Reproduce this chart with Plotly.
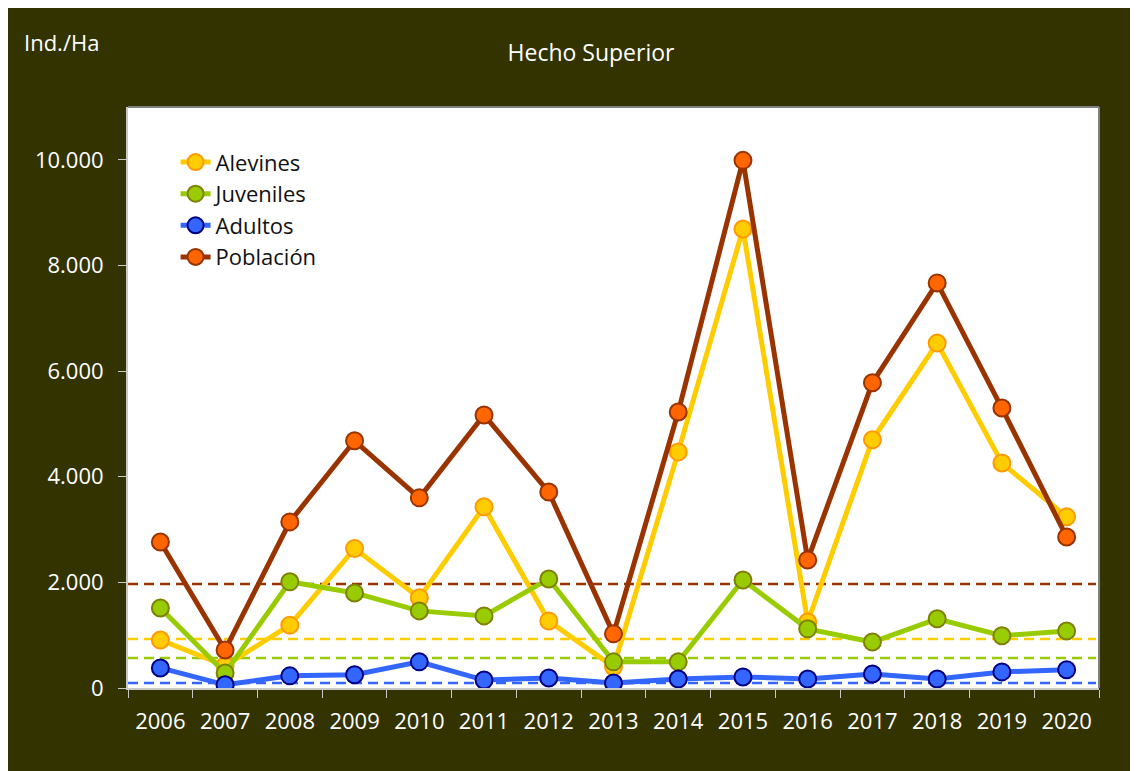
import plotly.graph_objects as go

# datos (Ind./Ha)
years = ['2006', '2007', '2008', '2009', '2010', '2011', '2012', '2013',
         '2014', '2015', '2016', '2017', '2018', '2019', '2020']
alevines = [910, 420, 1190, 2640, 1710, 3430, 1270, 400,
            4470, 8690, 1250, 4700, 6530, 4260, 3240]
juveniles = [1515, 285, 2010, 1800, 1460, 1365, 2065, 495,
             495, 2045, 1120, 870, 1310, 990, 1080]
adultos = [380, 60, 230, 250, 495, 150, 190, 95,
           170, 210, 170, 265, 170, 305, 345]
poblacion = [2765, 720, 3145, 4680, 3600, 5170, 3710, 1025,
             5225, 9990, 2425, 5780, 7670, 5300, 2860]

# medias (lineas discontinuas)
media_alevines = 930
media_juveniles = 570
media_adultos = 95
media_poblacion = 1970

series = [
    ('Alevines', alevines, '#FFCC00', '#FFCC00', '#FF9900'),
    ('Juveniles', juveniles, '#99CC00', '#99CC00', '#808000'),
    ('Adultos', adultos, '#3366FF', '#3366FF', '#000080'),
    ('Población', poblacion, '#993300', '#FF6600', '#993300'),
]
medias = [(media_poblacion, '#993300'), (media_alevines, '#FFCC00'),
          (media_juveniles, '#99CC00'), (media_adultos, '#3366FF')]

font = 'Open Sans'
bg = '#333300'
W, H = 1138, 771          # la pagina deja 8px de margen arriba/izquierda
L, R, T, B = 120, 47, 99, 91
pw, ph = W - L - R, H - T - B

fig = go.Figure()
for name, vals, lc, mc, ml in series:
    fig.add_trace(go.Scatter(x=years, y=vals, name=name, mode='lines+markers',
                             line=dict(color=lc, width=5),
                             marker=dict(size=17, color=mc, line=dict(color=ml, width=2))))

shapes = [
    # borde superior y derecho
    dict(type='line', xref='paper', yref='paper', x0=0, x1=1, y0=1, y1=1,
         line=dict(color='#808080', width=2)),
    dict(type='line', xref='paper', yref='paper', x0=1, x1=1, y0=0, y1=1,
         line=dict(color='#808080', width=2)),
]
for val, col in medias:
    shapes.append(dict(type='line', xref='paper', yref='y', x0=0, x1=0.997,
                       y0=val, y1=val, layer='below',
                       line=dict(color=col, width=2.5, dash='10px,6px')))

fig.update_layout(
    width=W, height=H,
    margin=dict(l=L, r=R, t=T, b=B),
    paper_bgcolor=bg, plot_bgcolor='white',
    separators=',.',
    font=dict(family=font, color='white', size=20),
    title=dict(text='Hecho Superior', xref='paper', x=(583 - L) / pw, xanchor='center',
               y=1 - 45 / H, yanchor='middle',
               font=dict(family=font, size=23, color='white')),
    shapes=shapes,
    annotations=[dict(text='Ind./Ha', xref='paper', yref='paper',
                      x=(14 - L) / pw, xanchor='left',
                      y=(H - B - 34) / ph, yanchor='middle', showarrow=False,
                      font=dict(family=font, size=22, color='white'))],
    legend=dict(x=0.049, y=0.941, xanchor='left', yanchor='top',
                bgcolor='rgba(0,0,0,0)', tracegroupgap=0,
                font=dict(family=font, size=22, color='#111111')),
    xaxis=dict(type='category', range=[-0.5, 14.5], showgrid=False,
               showline=True, linecolor='#C8C8C8', linewidth=2,
               ticks='outside', tickson='boundaries', ticklen=8,
               tickcolor='#C8C8C8', tickwidth=1, ticklabelstandoff=13,
               tickfont=dict(size=22, color='white')),
    yaxis=dict(range=[0, 11000], dtick=2000, tickformat=',d', showgrid=False,
               zeroline=False, showline=True, linecolor='#C8C8C8', linewidth=2,
               ticks='outside', ticklen=8, tickcolor='#C8C8C8', tickwidth=1,
               ticklabelstandoff=10, tickfont=dict(size=22, color='white')),
)

fig.write_html('out.html')
